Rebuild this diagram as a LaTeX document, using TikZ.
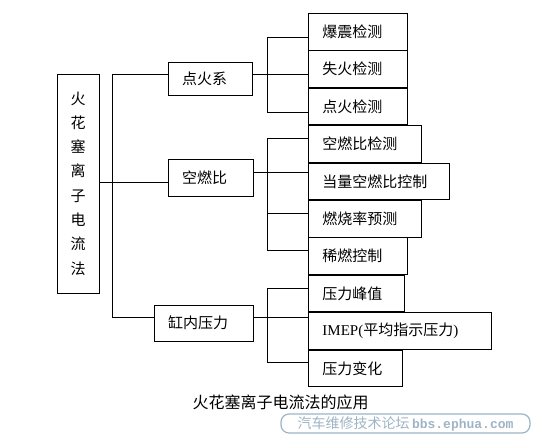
\documentclass[tikz,border=0pt]{standalone}
\usepackage{fontspec}
\setmainfont{Noto Sans CJK SC}
\setmonofont{Liberation Mono}
\newfontfamily\latinfont{Liberation Serif}
\usetikzlibrary{positioning}
\definecolor{wmblue}{RGB}{158,180,196}

\begin{document}
\begin{tikzpicture}[
  x=1pt, y=-1pt,
  line width=0.9pt,
  every node/.style={font=\fontsize{15}{18}\selectfont},
  rootbox/.style={draw, minimum width=42pt, minimum height=219pt, inner sep=0pt, align=center,
    font=\fontsize{15}{24.3}\selectfont},
  midbox/.style={draw, minimum height=35pt, inner xsep=14pt, inner ysep=0pt, align=left},
  leaf/.style={draw, anchor=north west, minimum height=36.5pt, inner xsep=14pt, inner ysep=0pt, align=left},
  wmark/.style={draw=wmblue, text=wmblue, rounded corners=8pt, minimum width=249pt,
    minimum height=19pt, inner sep=0pt, line width=1.2pt}
]
\useasboundingbox (0,0) rectangle (536,439);

% left part
\node[rootbox] (root) at (78,183.5) {火\\花\\塞\\离\\子\\电\\流\\法};
\node[midbox, text width=56pt, minimum height=33pt] (dhx) at (210,78.5) {点火系};
\node[midbox, text width=57pt, minimum height=37pt] (kfr) at (210.5,177.5) {空燃比};
\node[midbox, text width=71pt, minimum height=36pt] (gny) at (203.5,323) {缸内压力};

% leaves
\node[leaf, text width=71pt] (l1) at (308,13) {爆震检测};
\node[leaf, text width=71pt] (l2) at (l1.south west) {失火检测};
\node[leaf, text width=71pt] (l3) at (l2.south west) {点火检测};
\node[leaf, text width=85pt] (l4) at (l3.south west) {空燃比检测};
\node[leaf, text width=113pt] (l5) at (l4.south west) {当量空燃比控制};
\node[leaf, text width=85pt] (l6) at (l5.south west) {燃烧率预测};
\node[leaf, text width=71pt] (l7) at (l6.south west) {稀燃控制};
\node[leaf, text width=68pt] (l8) at (l7.south west) {压力峰值};
\node[leaf, text width=155pt] (l9) at (l8.south west) {{\latinfont IMEP(}平均指示压力{\latinfont )}};
\node[leaf, text width=66pt] (l10) at (l9.south west) {压力变化};

% trunk
\coordinate (kfrin) at ([yshift=-4.5pt]kfr.west);
\draw ([yshift=4.5pt]dhx.west) -- ++(-55pt,0) |- ([yshift=6pt]gny.west);
\draw (root.east |- kfrin) -- (kfrin);

% brackets
\draw ([yshift=4.5pt]dhx.east) -- ([yshift=4.5pt]dhx.east -| l2.west);
\draw ([yshift=-6pt]l1.west) -- ++(-41pt,0) |- ([yshift=-6pt]l3.west);

\draw ([yshift=5.5pt]kfr.east) -- ([yshift=5.5pt]kfr.east -| l5.west);
\draw ([yshift=5.5pt]l4.west) -- ++(-41pt,0) |- ([yshift=5.5pt]l7.west);
\draw ([yshift=5.5pt]l6.west) -- ++(-41pt,0);

\draw ([yshift=6pt]gny.east) -- ([yshift=6pt]gny.east -| l9.west);
\draw ([yshift=5.5pt]l8.west) -- ++(-41pt,0) |- ([yshift=5.5pt]l10.west);

% caption
\node[font=\fontsize{16}{19}\selectfont] (cap) at (280.5,402) {火花塞离子电流法的应用};
\node[wmark] (wm) at (405.5,423.5) {{\fontsize{14}{16}\selectfont 汽车维修技术论坛}\,{\ttfamily\bfseries\fontsize{13}{16}\selectfont bbs.ephua.com}};
\end{tikzpicture}
\end{document}
